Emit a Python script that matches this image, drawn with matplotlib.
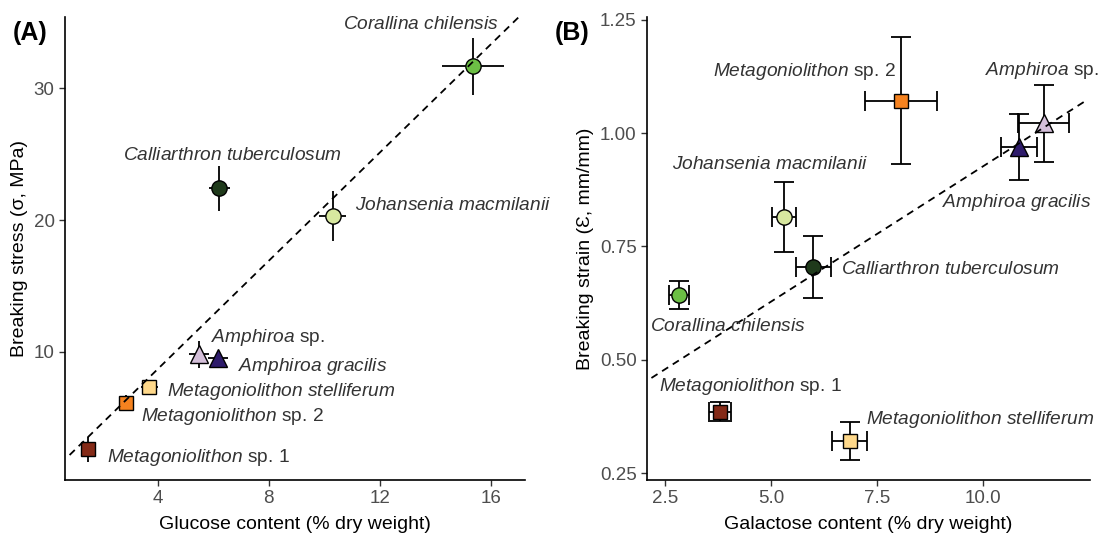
import numpy as np
import matplotlib
matplotlib.use('Agg')
import matplotlib.pyplot as plt

plt.rcParams['font.family'] = ['Liberation Sans', 'DejaVu Sans']
plt.rcParams['mathtext.fontset'] = 'custom'
plt.rcParams['mathtext.rm'] = 'Liberation Sans'
plt.rcParams['mathtext.it'] = 'Liberation Sans:italic'

# species, in the order they are listed
species = ['Corallina chilensis', 'Calliarthron tuberculosum', 'Johansenia macmilanii',
           'Amphiroa sp.', 'Amphiroa gracilis', 'Metagoniolithon stelliferum',
           'Metagoniolithon sp. 2', 'Metagoniolithon sp. 1']
markers = ['o', 'o', 'o', '^', '^', 's', 's', 's']
colors = ['#6cbf45', '#1f3a1b', '#d8e89f', '#d4bfd9', '#2e1b6b', '#fed88a', '#f5821f', '#842a17']

# panel A: glucose vs breaking stress
glucose = [15.37, 6.23, 10.30, 5.49, 6.18, 3.71, 2.88, 1.49]
glucose_err = [1.12, 0.39, 0.47, 0.37, 0.37, 0.30, 0.20, 0.15]
stress = [31.67, 22.4, 20.3, 9.8, 9.56, 7.31, 6.14, 2.6]
stress_err = [2.15, 1.72, 1.9, 1.0, 0.5, 0.3, 0.6, 0.95]

# panel B: galactose vs breaking strain
galactose = [2.84, 6.00, 5.31, 11.43, 10.84, 6.86, 8.07, 3.80]
galactose_err = [0.24, 0.42, 0.28, 0.60, 0.42, 0.41, 0.85, 0.25]
strain = [0.642, 0.704, 0.815, 1.022, 0.969, 0.321, 1.071, 0.386]
strain_err = [0.031, 0.068, 0.077, 0.085, 0.072, 0.042, 0.14, 0.02]


def label_text(name):
    if ' sp.' in name:
        genus, rest = name.split(' ', 1)
        return r'$\mathit{' + genus + '}$ ' + rest
    return r'$\mathit{' + name.replace(' ', r'\ ') + '}$'


def panel(ax, x, xerr, y, yerr, capsize, lab_pos):
    for i in range(len(species)):
        ax.errorbar(x[i], y[i], xerr=xerr[i], yerr=yerr[i], fmt='none', ecolor='black',
                    elinewidth=1.3, capsize=capsize, capthick=1.3, zorder=2)
    for i in range(len(species)):
        ms = 12.5 if markers[i] == '^' else (10 if markers[i] == 's' else 11)
        ax.plot(x[i], y[i], marker=markers[i], ms=ms, mfc=colors[i], mec='black',
                mew=1.0, ls='none', zorder=3)
    # linear fit through the means
    b, a = np.polyfit(x, y, 1)
    x0, x1 = ax.get_xlim()
    span = x1 - x0
    xs = np.array([x0 + 0.01 * span, x1 - 0.01 * span])
    ax.plot(xs, a + b * xs, ls=(0, (4, 3)), color='black', lw=1.3, zorder=4)
    for i, name in enumerate(species):
        px, py, ha = lab_pos[i]
        ax.text(px, py, label_text(name), ha=ha, va='center', fontsize=13.8,
                color='#333333', zorder=5, clip_on=False)
    for s in ['top', 'right']:
        ax.spines[s].set_visible(False)
    for s in ['left', 'bottom']:
        ax.spines[s].set_linewidth(1.2)
    ax.tick_params(labelsize=13.5, labelcolor='#4d4d4d', length=4, width=1.0, color='#333333')


fig = plt.figure(figsize=(10.98, 5.34), dpi=100)

axA = fig.add_axes([65 / 1098, 54 / 534, 460 / 1098, 463 / 534])
axA.set_xlim(0.67, 17.23)
axA.set_ylim(0.28, 35.4)
labA = [(13.47, 34.8, 'center'), (6.70, 24.9, 'center'), (11.10, 21.1, 'left'),
        (5.94, 11.1, 'left'), (6.88, 8.88, 'left'), (4.35, 6.99, 'left'),
        (3.39, 5.08, 'left'), (2.18, 1.95, 'left')]
panel(axA, glucose, glucose_err, stress, stress_err, 0, labA)
axA.set_xticks([4, 8, 12, 16])
axA.set_yticks([10, 20, 30])
axA.set_xlabel('Glucose content (% dry weight)', fontsize=14, labelpad=6)
axA.set_ylabel('Breaking stress (σ, MPa)', fontsize=14, labelpad=4)

axB = fig.add_axes([647 / 1098, 54 / 534, 443 / 1098, 463 / 534])
axB.set_xlim(2.08, 12.52)
axB.set_ylim(0.235, 1.256)
labB = [(3.98, 0.574, 'center'), (6.65, 0.70, 'left'), (4.97, 0.930, 'center'),
        (10.04, 1.138, 'left'), (9.04, 0.848, 'left'), (7.24, 0.368, 'left'),
        (7.95, 1.135, 'right'), (4.52, 0.441, 'center')]
panel(axB, galactose, galactose_err, strain, strain_err, 7, labB)
axB.set_xticks([2.5, 5.0, 7.5, 10.0])
axB.set_xticklabels(['2.5', '5.0', '7.5', '10.0'])
axB.set_yticks([0.25, 0.50, 0.75, 1.00, 1.25])
axB.set_yticklabels(['0.25', '0.50', '0.75', '1.00', '1.25'])
axB.set_xlabel('Galactose content (% dry weight)', fontsize=14, labelpad=6)
axB.set_ylabel('Breaking strain (Ɛ, mm/mm)', fontsize=14, labelpad=4)

fig.text(30 / 1098, 1 - 33 / 534, '(A)', fontsize=18, fontweight='bold', ha='center', va='center')
fig.text(572 / 1098, 1 - 33 / 534, '(B)', fontsize=18, fontweight='bold', ha='center', va='center')

fig.savefig('out.png', dpi=100)
